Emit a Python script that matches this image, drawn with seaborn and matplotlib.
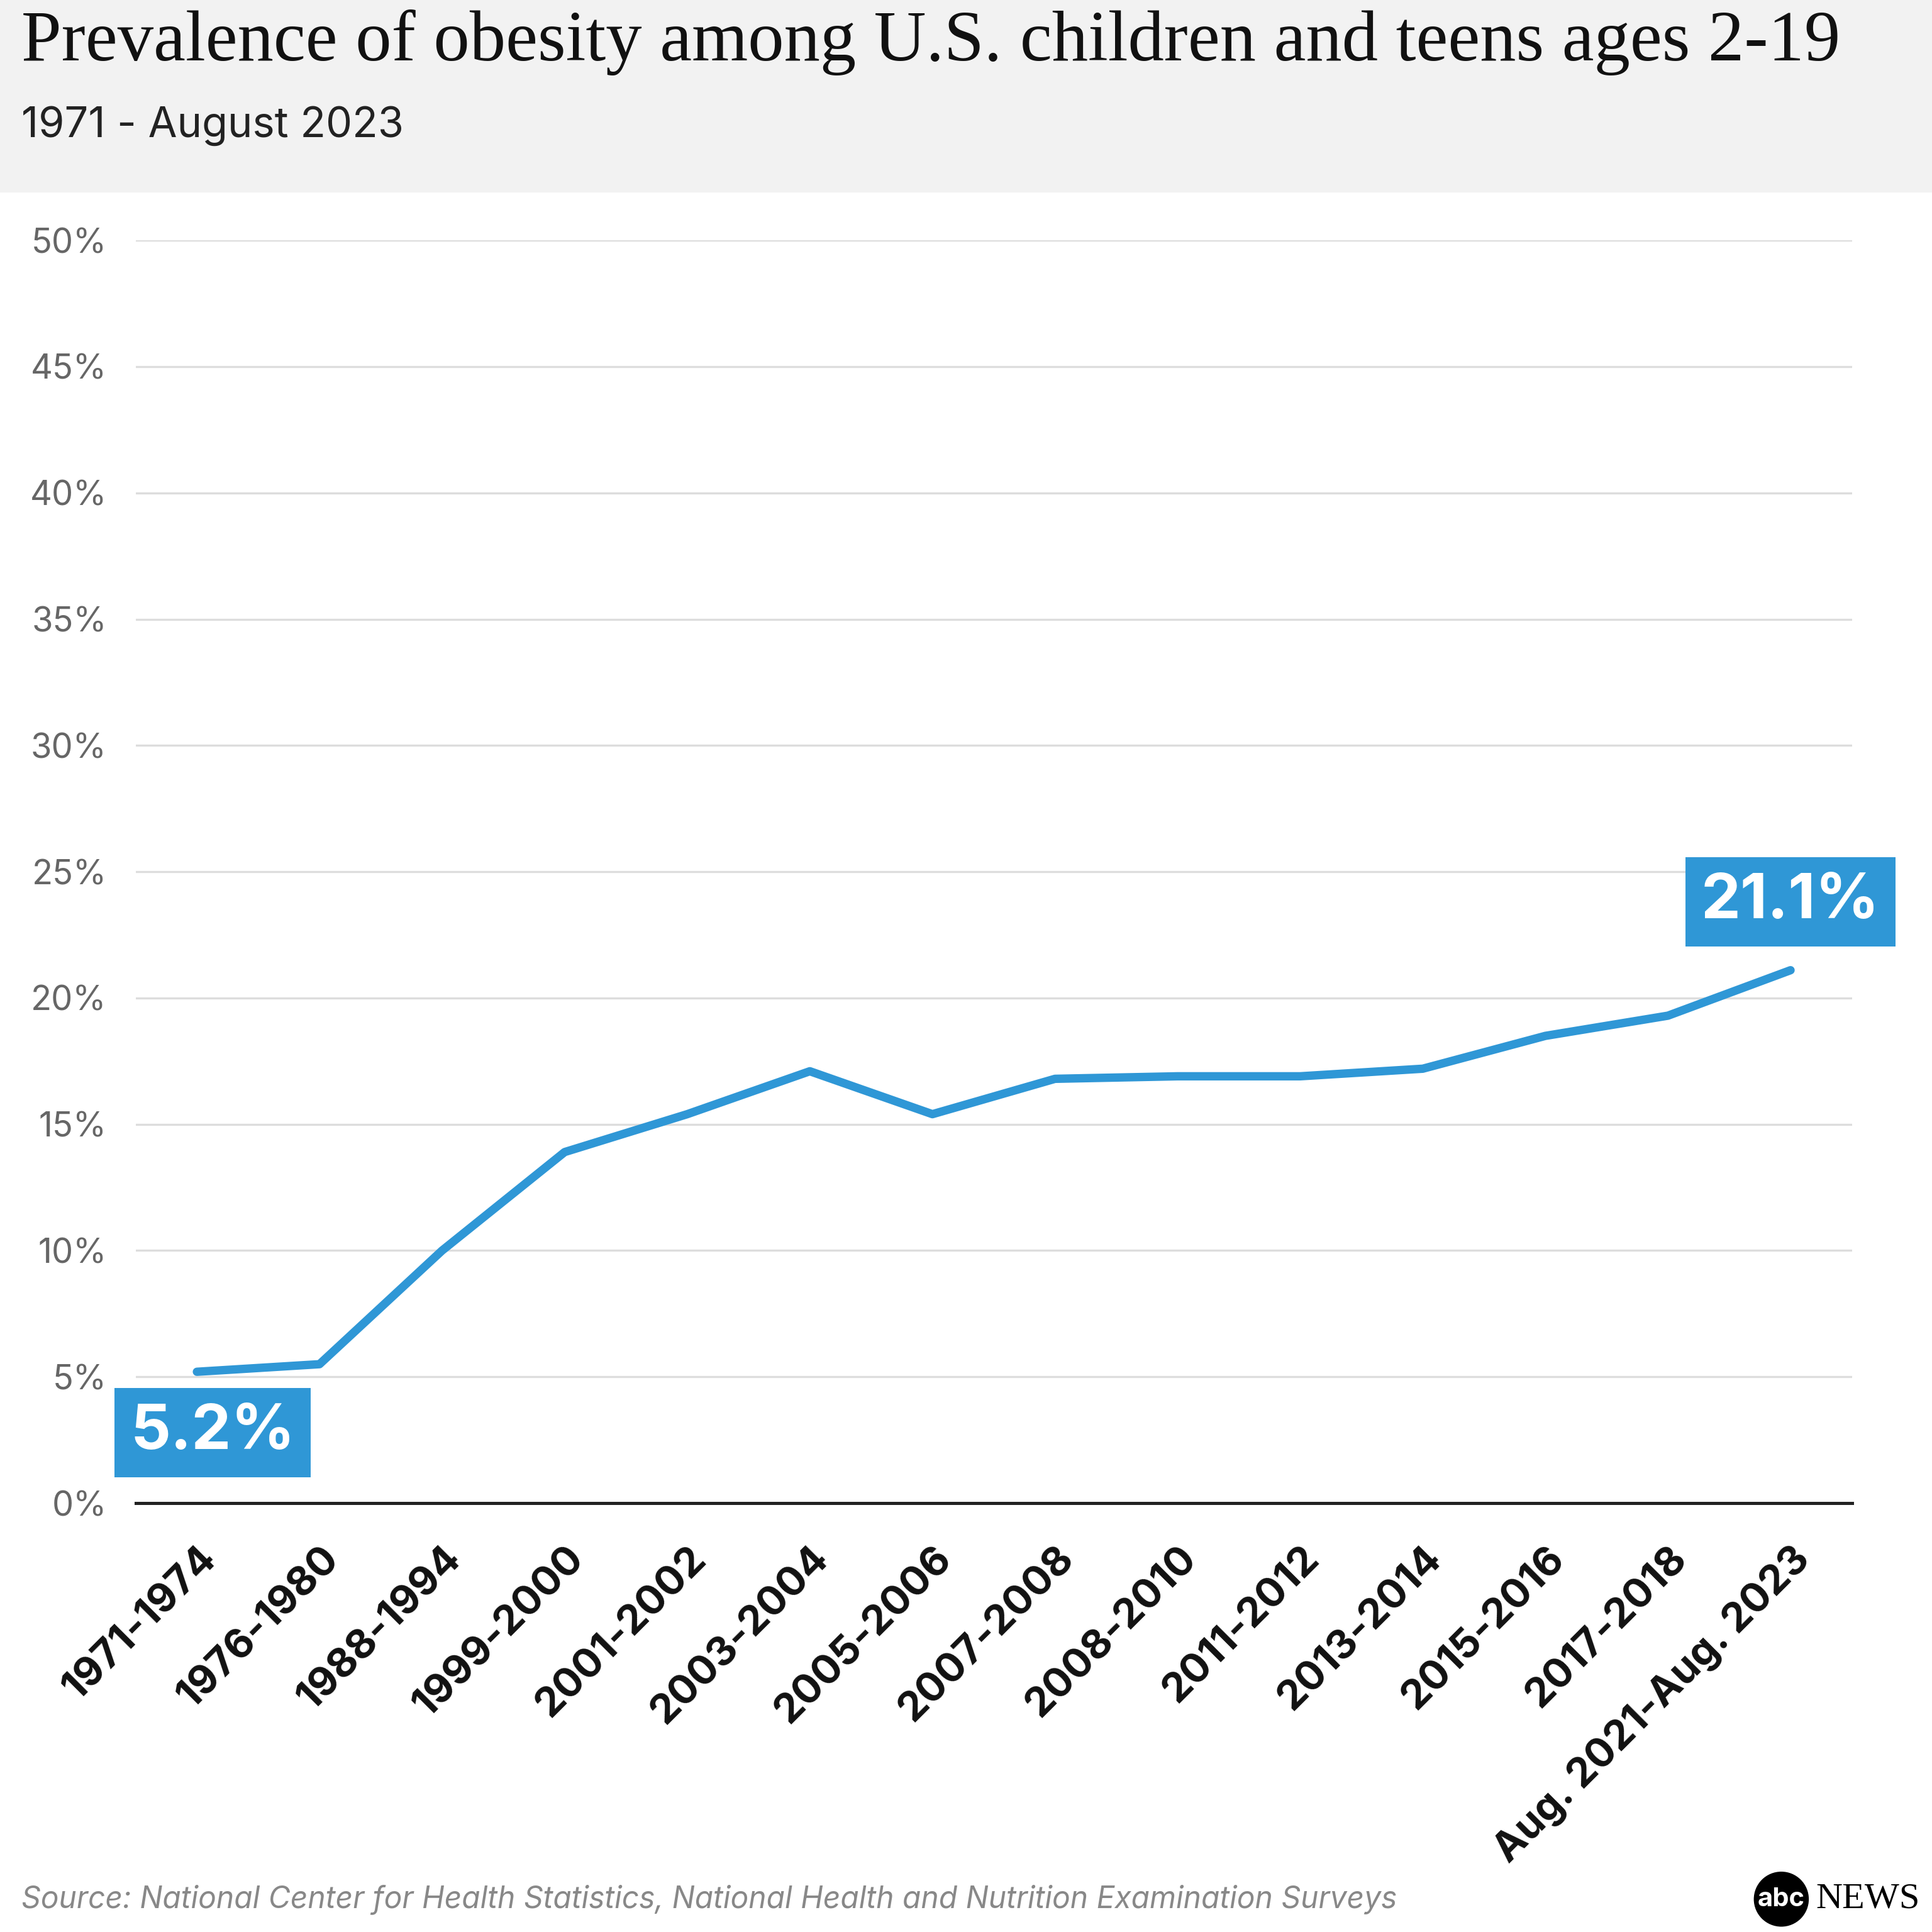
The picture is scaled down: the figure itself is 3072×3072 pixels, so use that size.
import matplotlib
matplotlib.use("Agg")
import matplotlib.pyplot as plt
import seaborn as sns
import pandas as pd
from matplotlib.patches import Rectangle

periods = ["1971-1974","1976-1980","1988-1994","1999-2000","2001-2002","2003-2004",
           "2005-2006","2007-2008","2008-2010","2011-2012","2013-2014","2015-2016",
           "2017-2018","Aug. 2021-Aug. 2023"]
values = [5.2, 5.5, 10.0, 13.9, 15.4, 17.1, 15.4, 16.8, 16.9, 16.9, 17.2, 18.5, 19.3, 21.1]
yticks = [0, 5, 10, 15, 20, 25, 30, 35, 40, 45, 50]

sns.set_theme(style="white")
plt.rcParams['font.family'] = ['Inter', 'DejaVu Sans']
BLUE = "#2f97d6"

df = pd.DataFrame({"x": range(len(periods)), "v": values})
fig = plt.figure(figsize=(10.24, 10.24), dpi=300)
fig.patches.append(Rectangle((0, 0.901), 1, 0.099, transform=fig.transFigure, color="#f2f2f2", zorder=0))
ax = fig.add_axes([0.0702, 0.222, 0.8883, 0.6536])
sns.lineplot(data=df, x="x", y="v", ax=ax, color=BLUE, lw=3.2, solid_capstyle="round")
ax.set_xlim(-0.5, len(periods) - 0.5)
ax.set_ylim(0, 50)
ax.set_yticks(yticks)
ax.set_yticklabels([f"{t}%" for t in yticks], color="#666666", fontsize=13)
ax.grid(axis="y", color="#dddddd", lw=0.8)
for s in ["top", "right", "left"]:
    ax.spines[s].set_visible(False)
ax.spines["bottom"].set_color("#222222")
ax.spines["bottom"].set_linewidth(1.2)
ax.tick_params(axis="y", length=0, pad=11)
ax.tick_params(axis="x", length=0, pad=14)
ax.set_xticks(range(len(periods)))
ax.set_xticklabels(periods, rotation=45, ha="right", rotation_mode="anchor",
                   fontsize=15.5, fontweight="bold", color="#111111")
ax.set_xlabel(""); ax.set_ylabel("")

bbox = dict(boxstyle="square,pad=0.25", fc=BLUE, ec="none")
ax.text(0.13, 2.8, f"{values[0]}%", ha="center", va="center", fontsize=24, fontweight="bold", color="white", bbox=bbox)
ax.text(len(periods) - 1, 23.8, f"{values[-1]}%", ha="center", va="center", fontsize=24, fontweight="bold", color="white", bbox=bbox)

fig.text(0.011, 0.978, "Prevalence of obesity among U.S. children and teens ages 2-19",
         family="Liberation Serif", fontsize=27.5, va="center", color="#111111")
fig.text(0.011, 0.935, "1971 - August 2023", fontsize=16, va="center", color="#222222")
fig.text(0.011, 0.017, "Source: National Center for Health Statistics, National Health and Nutrition Examination Surveys",
         fontsize=11.5, style="italic", color="#888888", va="center")
fig.text(0.922, 0.017, "abc", fontsize=10, fontweight="bold", color="white", va="center", ha="center",
         bbox=dict(boxstyle="circle,pad=0.15", fc="black", ec="none"))
fig.text(0.94, 0.017, "NEWS", family="Liberation Serif", fontsize=14, color="black", va="center")
fig.savefig("out.png", dpi=300)
